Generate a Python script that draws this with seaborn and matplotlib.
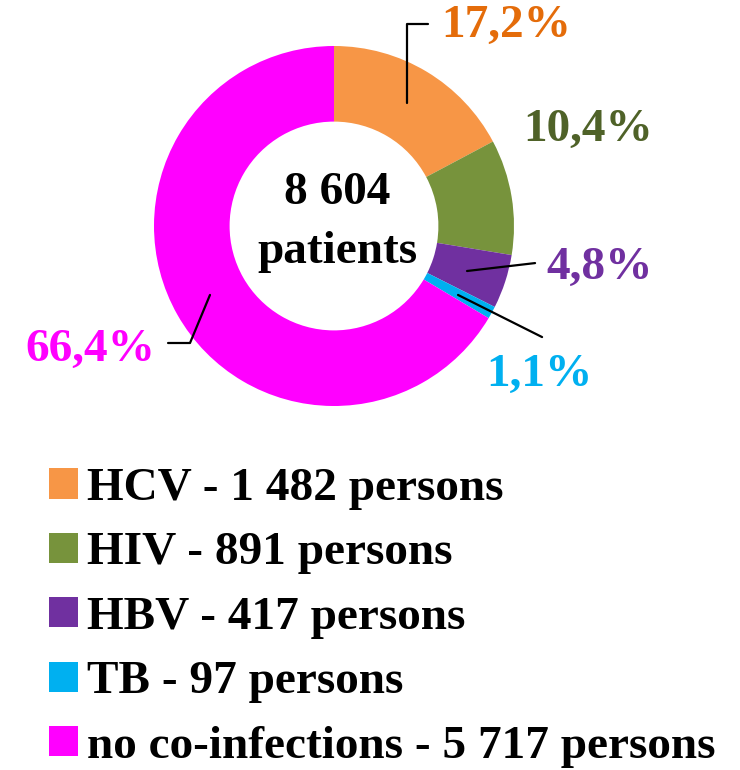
import matplotlib
matplotlib.use("Agg")
import matplotlib.pyplot as plt
import seaborn as sns
from matplotlib.patches import Patch

sns.set_theme(style="white")
plt.rcParams['font.family'] = ['Liberation Serif', 'DejaVu Serif']
plt.rcParams['font.weight'] = 'bold'

# Data
categories = ["HCV", "HIV", "HBV", "TB", "no co-infections"]
persons = [1482, 891, 417, 97, 5717]
percent_labels = ["17,2%", "10,4%", "4,8%", "1,1%", "66,4%"]
legend_labels = ["HCV - 1 482 persons", "HIV - 891 persons", "HBV - 417 persons",
                 "TB - 97 persons", "no co-infections - 5 717 persons"]
total_number = "8 604"
total_unit = "patients"

wedge_colors = ["#F79646", "#77933C", "#7030A0", "#00B0F0", "#FF00FF"]
label_colors = ["#E46C0A", "#4F6228", "#7030A0", "#00B0F0", "#FF00FF"]

fig = plt.figure(figsize=(7.4, 7.7), dpi=100)
ax = fig.add_axes([154/740, 1-406/770, 360/740, 360/770])
ax.pie(persons, colors=wedge_colors, startangle=90, counterclock=False,
       radius=1.0, wedgeprops=dict(width=0.42, edgecolor='none'))
ax.set_xlim(-1, 1)
ax.set_ylim(-1, 1)
ax.set_aspect('equal')
ax.axis('off')

fs = 34
# Center text
ax.text(0.017, 0.183, total_number, ha='center', va='center', fontsize=fs,
        fontweight='bold', color='black')
ax.text(0.017, -0.144, total_unit, ha='center', va='center', fontsize=fs,
        fontweight='bold', color='black')

lw = 1.6
# HCV
ax.plot([0.406, 0.406, 0.522], [0.683, 1.122, 1.122], color='black', lw=lw, clip_on=False)
ax.text(0.594, 1.111, percent_labels[0], ha='left', va='center', fontsize=fs,
        fontweight='bold', color=label_colors[0], clip_on=False)
# HIV
ax.text(1.05, 0.533, percent_labels[1], ha='left', va='center', fontsize=fs,
        fontweight='bold', color=label_colors[1], clip_on=False)
# HBV
ax.plot([0.739, 1.117], [-0.25, -0.206], color='black', lw=lw, clip_on=False)
ax.text(1.178, -0.233, percent_labels[2], ha='left', va='center', fontsize=fs,
        fontweight='bold', color=label_colors[2], clip_on=False)
# TB
ax.plot([0.689, 1.156], [-0.383, -0.617], color='black', lw=lw, clip_on=False)
ax.text(1.139, -0.828, percent_labels[3], ha='center', va='center', fontsize=fs,
        fontweight='bold', color=label_colors[3], clip_on=False)
# no co-infections
ax.plot([-0.689, -0.8, -0.922], [-0.383, -0.65, -0.65], color='black', lw=lw, clip_on=False)
ax.text(-0.994, -0.689, percent_labels[4], ha='right', va='center', fontsize=fs,
        fontweight='bold', color=label_colors[4], clip_on=False)

handles = [Patch(facecolor=c, edgecolor='none') for c in wedge_colors]
leg = fig.legend(handles, legend_labels, loc='upper left',
                 bbox_to_anchor=(49/740, 1-468/770), frameon=False,
                 fontsize=fs, handlelength=0.61, handleheight=0.61,
                 handletextpad=0.19, labelspacing=0.475, borderaxespad=0,
                 borderpad=0)
for t in leg.get_texts():
    t.set_fontweight('bold')
    t.set_color('black')

fig.savefig("out.png", dpi=100, facecolor='white')
